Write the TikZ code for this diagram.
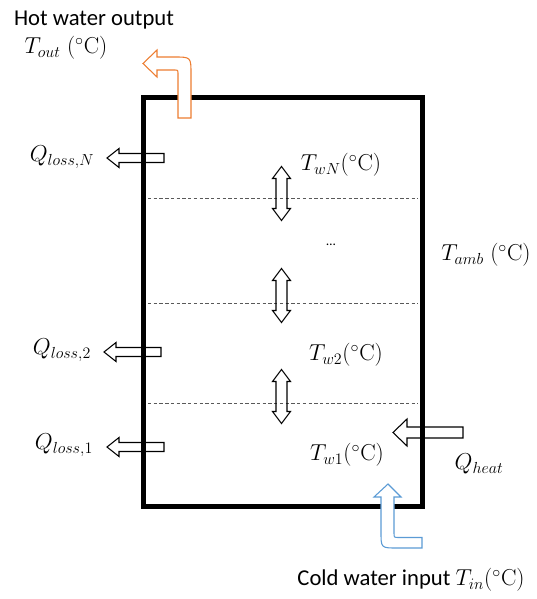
\documentclass[tikz,border=0pt]{standalone}
\usepackage[no-math]{fontspec}
\setmainfont{Carlito}
\usepackage{amsmath}
\usetikzlibrary{
    positioning
}
\DeclareMathSizes{16}{16}{12.5}{10}
\DeclareMathSizes{17}{16.5}{12.5}{10}
\definecolor{hotflow}{RGB}{237,125,49}
\definecolor{coldflow}{RGB}{91,155,213}
\tikzset{
    tank/.style={
        line width=3.75pt,
        line join=miter
    },
    layer/.style={
        gray!70!black,
        line width=0.5pt,
        dash pattern=on 2.5pt off 1.8pt
    },
    flow/.style={
        line width=0.8pt,
        line join=miter
    },
    lbl/.style={
        font=\fontsize{16}{19}\selectfont,
        inner sep=0pt
    },
    txt/.style={
        font=\fontsize{17}{20}\selectfont,
        inner sep=0pt
    },
    % hollow arrow pointing left, tail at the origin
    lossarrow/.pic={
        \draw[flow] (0,-4.5) -- (-45,-4.5) -- (-45,-9.5) -- (-57,0)
            -- (-45,9.5) -- (-45,4.5) -- (0,4.5) -- cycle;
    },
    % hollow double arrow, centred at the origin
    mixarrow/.pic={
        \draw[flow] (-5.5,-15) -- (-9,-15) -- (0,-27) -- (9,-15) -- (5.5,-15)
            -- (5.5,15) -- (9,15) -- (0,27) -- (-9,15) -- (-5.5,15) -- cycle;
    }
}

\begin{document}
\begin{tikzpicture}[
    x=0.75pt,
    y=-0.75pt
]
    \useasboundingbox (0,0) rectangle (536,599);

    % Tank
    \draw[tank] (143.5,97.5) rectangle (422.5,506.5);

    % Layers
    \foreach \ly in {198,303,403}
        \draw[layer] (148,\ly) -- (418,\ly);

    % Mixing between layers
    \pic at (281.5,193.5) {mixarrow};
    \pic at (281.5,295.5) {mixarrow};
    \pic at (281.5,396.5) {mixarrow};

    % Losses through the wall
    \pic at (164,158) {lossarrow};
    \pic at (161,352) {lossarrow};
    \pic at (164,447) {lossarrow};

    % Heater
    \draw[flow] (463,427) -- (407,427) -- (407,419) -- (393,432.5)
        -- (407,446) -- (407,438) -- (463,438) -- cycle;

    % Hot water out
    \draw[flow, hotflow, fill=white]
        (178,118) -- (191,118) -- (191,74)
        .. controls (191,57) .. (174,57)
        -- (157,57) -- (157,50) -- (143,63.5) -- (157,77) -- (157,70)
        -- (174,70) .. controls (178,70) .. (178,74) -- cycle;

    % Cold water in
    \draw[flow, coldflow, fill=white]
        (388,484) -- (401,497) -- (394,497) -- (394,533)
        .. controls (394,537.5) .. (399,537.5)
        -- (422,537.5) -- (422,548) -- (397,548)
        .. controls (381,548) .. (381,532)
        -- (381,497) -- (374,497) -- cycle;

    % Texts
    \node[txt] (hot)    at (94,20)   {Hot water output};
    \node[lbl] (tout)   at (66,48)   {$T_{out}\;(^\circ\mathrm{C})$};
    \node[lbl] (qlossN) at (62,157)  {$Q_{loss,N}$};
    \node[lbl] (qloss2) at (62,350)  {$Q_{loss,2}$};
    \node[lbl] (qloss1) at (64,445)  {$Q_{loss,1}$};
    \node[lbl] (twN)    at (341,165) {$T_{wN}(^\circ\mathrm{C})$};
    \node[lbl, font=\fontsize{10}{12}\selectfont] (dots) at (331,245) {\dots};
    \node[lbl] (tw2)    at (346,355) {$T_{w2}(^\circ\mathrm{C})$};
    \node[lbl] (tw1)    at (347,455) {$T_{w1}(^\circ\mathrm{C})$};
    \node[lbl] (tamb)   at (486,255) {$T_{amb}\;(^\circ\mathrm{C})$};
    \node[lbl] (qheat)  at (479,464) {$Q_{heat}$};
    \node[txt] (cold)   at (411,580) {Cold water input $T_{in}(^\circ\mathrm{C})$};

\end{tikzpicture}
\end{document}
